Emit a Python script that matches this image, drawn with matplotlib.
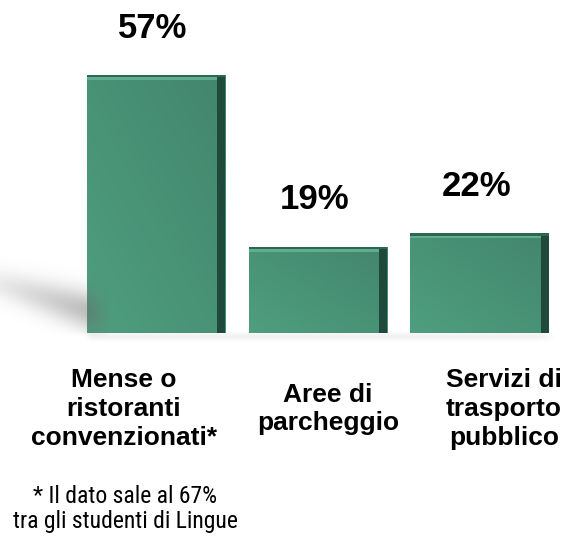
import numpy as np
import matplotlib
matplotlib.use("Agg")
import matplotlib.pyplot as plt
from matplotlib import font_manager

# dati
categorie = ["Mense o\nristoranti\nconvenzionati*", "Aree di\nparcheggio", "Servizi di\ntrasporto\npubblico"]
valori = [57, 19, 22]
etichette = ["57%", "19%", "22%"]
nota = "* Il dato sale al 67%\ntra gli studenti di Lingue"

verde = "#46937a"
verde_scuro = "#1f4a3b"
verde_chiaro = "#5fae8f"

# font stretto per la nota, se c'e'
nomi = {f.name for f in font_manager.fontManager.ttflist}
if "Roboto Condensed" in nomi:
    font_nota, size_nota = "Roboto Condensed", 17
elif "Liberation Sans Narrow" in nomi:
    font_nota, size_nota = "Liberation Sans Narrow", 17
else:
    font_nota, size_nota = "Liberation Sans", 15

W, H = 567, 536
fig = plt.figure(figsize=(W / 100, H / 100), dpi=100)
ax = fig.add_axes([0, 0, 1, 1])
ax.patch.set_alpha(0)

# ombra grigia sfumata a sinistra
yy, xx = np.mgrid[0:H, 0:W].astype(float)
yc = 284 + 0.30 * xx
sig = 15 + 0.05 * xx
amp = np.clip(0.14 + 0.30 * xx / 86.0, 0, 0.45) * np.clip((110 - xx) / 20.0, 0, 1)
alpha = amp * np.exp(-((yy - yc) / sig) ** 2) * np.clip((337 - yy) / 6.0, 0, 1)
coda = np.clip((xx - 84) / 8.0, 0, 1) * np.clip((555 - xx) / 15.0, 0, 1)
alpha += 0.09 * np.exp(-((yy - 336) / 3.5) ** 2) * coda
shadow = np.zeros((H, W, 4))
shadow[..., :3] = 0.42
shadow[..., 3] = np.clip(alpha, 0, 1)
fig.figimage(shadow, 0, 0, origin="upper", zorder=0)

x = np.arange(len(valori))
larg = 0.855
ax.set_xlim(-0.9645, 2.541)
ax.set_ylim(-44.85, 73.57)

bars = ax.bar(x, valori, width=larg, color=verde, zorder=2)

# sfumatura diagonale sulle facce
grad = np.linspace(0, 1, 64)
g = (grad[None, :] + grad[:, None]) / 2
cm = matplotlib.colors.LinearSegmentedColormap.from_list("v", ["#4f9e80", "#42866d"])
for b in bars:
    x0, y0 = b.get_x(), b.get_y()
    im = ax.imshow(g, extent=(x0, x0 + b.get_width(), y0, y0 + b.get_height()),
                   cmap=cm, aspect="auto", zorder=2.1, origin="lower")
    im.set_clip_path(b)

# lato destro scuro e bordo superiore
lato = 0.05
ax.bar(x + larg / 2 - lato / 2, valori, width=lato, color=verde_scuro, zorder=3)
ax.bar(x - lato / 2, [1.0] * len(valori), bottom=np.array(valori) - 1.0, width=larg - lato,
       color=verde_chiaro, zorder=3)
ax.bar(x, [0.5] * len(valori), bottom=np.array(valori) - 0.5, width=larg, color="#2f6650", zorder=3)

ax.set_xticks([])
ax.set_yticks([])
for s in ax.spines.values():
    s.set_visible(False)

# percentuali sopra le barre
for xi, v, t in zip(x, valori, etichette):
    ax.annotate(t, (xi - 0.02, v), xytext=(0, 27), textcoords="offset points",
                ha="center", va="baseline", fontsize=25, fontweight="bold",
                family="Liberation Sans", color="black")

# etichette delle categorie (non centrate esattamente sulle barre)
dx = [-0.198, 0.063, 0.151]
for xi, c, d in zip(x, categorie, dx):
    ax.text(xi + d, -16.8, c, ha="center", va="center", fontsize=19, fontweight="bold",
            family="Liberation Sans", linespacing=1.25, color="black")

ax.text(-0.192, -38.9, nota, ha="center", va="center", fontsize=size_nota,
        family=[font_nota, "Liberation Sans"], linespacing=1.1, color="black")

fig.savefig("out.png", dpi=100)
